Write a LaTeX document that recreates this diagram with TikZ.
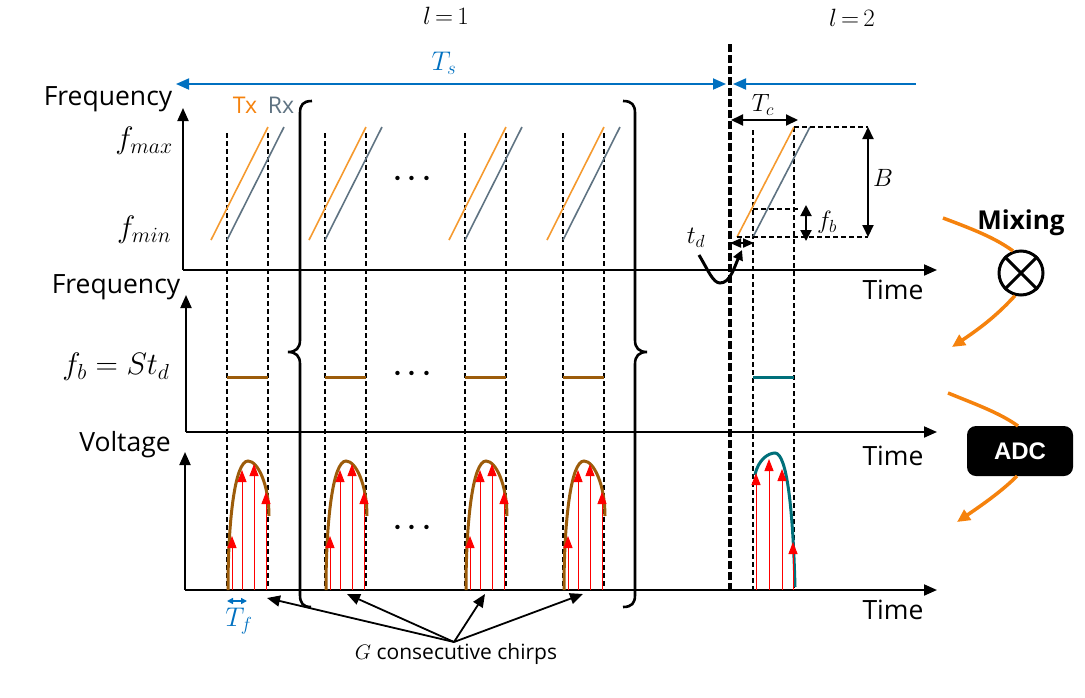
\RequirePackage{fix-cm}
\documentclass[tikz,border=0pt]{standalone}
\usepackage{amsmath}
\usepackage{fontspec}
\setmainfont{Open Sans}
\newfontfamily\adcfont{Liberation Sans}
\usetikzlibrary{arrows.meta}
\definecolor{txorange}{HTML}{F59A2F}
\definecolor{rxgray}{HTML}{5F7382}
\definecolor{mixorange}{HTML}{F5820D}
\definecolor{tsblue}{HTML}{0070C0}
\definecolor{beatbrown}{HTML}{9C5C0A}
\definecolor{beatteal}{HTML}{00707A}
\newcommand{\txt}[1]{\fontsize{#1}{#1}\selectfont}
\tikzset{
	lab/.style={inner sep=0pt,font=\txt{26.5}},
	mathlab/.style={inner sep=0pt,font=\txt{25}},
	biglab/.style={inner sep=0pt,font=\txt{31}},
	dotlab/.style={inner sep=0pt,font=\boldmath\txt{28}},
	axis/.style={line width=2pt,<-},
	guide/.style={line width=1.8pt,dash pattern=on 5pt off 3pt},
	bound/.style={line width=1.8pt,dash pattern=on 5pt off 3pt},
	measure/.style={line width=2pt,<->},
	txline/.style={line width=1.6pt,draw=txorange},
	rxline/.style={line width=1.6pt,draw=rxgray},
	sample/.style={line width=1pt,draw=red,->,>={Triangle[length=12pt,width=9pt]}},
	brownline/.style={line width=3pt,draw=beatbrown},
	tealline/.style={line width=3pt,draw=beatteal},
	bluearrow/.style={line width=1.8pt,draw=tsblue},
	mixline/.style={line width=3.5pt,draw=mixorange},
	curlybrace/.style={line width=2.6pt},
}
\begin{document}
\begin{tikzpicture}[x=1pt,y=-1pt,>={Triangle[length=13pt,width=11pt]},line cap=butt]
	\useasboundingbox (0,0) rectangle (1085,697);
	% labels
	\node (l1) [mathlab] at (446,16) {$l\,{=}\,1$};
	\node (l2) [mathlab] at (852,18) {$l\,{=}\,2$};
	\node (Ts) [mathlab,font=\txt{27},text=tsblue] at (444,63) {$T_s$};
	\node (freq1) [lab] at (108,99) {Frequency};
	\node (freq2) [lab] at (116,287) {Frequency};
	\node (volt) [lab] at (125,445) {Voltage};
	\node (tx) [lab,font=\txt{23},text=mixorange] at (245,105) {Tx};
	\node (rx) [lab,font=\txt{23},text=rxgray] at (281,105) {Rx};
	\node (fmax) [biglab] at (144,141) {$f_{max}$};
	\node (fmin) [biglab] at (144,230) {$f_{min}$};
	\node (fbeq) [biglab] at (116,367) {$f_b=St_d$};
	\node (time1) [lab] at (893,290) {Time};
	\node (time2) [lab] at (893,456) {Time};
	\node (time3) [lab] at (893,610) {Time};
	\node (dots1) [dotlab] at (415,179) {$\cdots$};
	\node (dots2) [dotlab] at (415,374) {$\cdots$};
	\node (dots3) [dotlab] at (415,528) {$\cdots$};
	\node (Tf) [mathlab,font=\txt{27},text=tsblue] at (239,621) {$T_f$};
	\node (Tc) [mathlab] at (763,105) {$T_c$};
	\node (B) [mathlab] at (883,178) {$B$};
	\node (fb) [mathlab] at (827,222) {$f_b$};
	\node (td) [mathlab] at (696,238) {$t_d$};
	\node (chirps) [lab,font=\txt{21}] at (456,654) {$G$ consecutive chirps};
	% axes
	\coordinate (o1) at (183,270);
	\coordinate (o2) at (186,432);
	\coordinate (o3) at (185,590);
	\draw [axis] (183,108) -- (o1);
	\draw [axis] (937,270) -- (o1);
	\draw [axis] (186,295) -- (o2);
	\draw [axis] (937,432) -- (o2);
	\draw [axis] (185,452) -- (o3);
	\draw [axis] (937,590) -- (o3);
	% l=1 chirps
	\foreach \x in {227,325,465,563} {
		\draw [guide] (\x,133) -- (\x,590);
		\draw [guide] (\x+41,133) -- (\x+41,590);
		\draw [txline] (\x-16,240) -- (\x+41,127);
		\draw [rxline] (\x,240) -- (\x+57,127);
		\draw [brownline] (\x,377) -- (\x+41,377);
		\draw [brownline] (\x+1,590) .. controls (\x+1,520) and (\x+8,461) .. (\x+21,461) .. controls (\x+31,461) and (\x+42,485) .. (\x+42,516);
		\draw [sample] (\x+5,590) -- (\x+5,536);
		\draw [sample] (\x+15,590) -- (\x+15,470);
		\draw [sample] (\x+27,590) -- (\x+27,464);
		\draw [sample] (\x+39,590) -- (\x+39,492);
	}
	% l=2 chirp
	\draw [guide] (753,130) -- (753,590);
	\draw [guide] (794,127) -- (794,590);
	\draw [txline] (737,237) -- (794,127);
	\draw [rxline] (753,237) -- (810,127);
	\draw [tealline] (753,377) -- (794,377);
	\draw [tealline] (755,475) .. controls (758,460) and (768,453) .. (775,453) .. controls (787,453) and (793,510) .. (795,587);
	\draw [sample] (756,590) -- (756,473);
	\draw [sample] (769,590) -- (769,459);
	\draw [sample] (782,590) -- (782,469);
	\draw [sample] (793,590) -- (793,542);
	% boundary and durations
	\coordinate (top) at (730,44);
	\coordinate (bot) at (730,590);
	\draw [line width=3.4pt,dash pattern=on 8pt off 3pt] (top) -- (bot);
	\draw [bluearrow,<->] (176,84) -- (726,84);
	\draw [bluearrow,<-] (733,84) -- (916,84);
	\draw [measure,>={Triangle[length=12pt,width=11pt]}] (731,120) -- (798,120);
	\draw [bound] (794,127) -- (868,127);
	\draw [bound] (737,237) -- (868,237);
	\draw [bound] (753,209) -- (800,209);
	\draw [measure,>={Triangle[length=12pt,width=11pt]}] (868,127) -- (868,237);
	\draw [measure,>={Triangle[length=11pt,width=11pt]}] (806,205) -- (806,241);
	\draw [measure,>={Triangle[length=11pt,width=9pt]}] (730,243) -- (754,243);
	\draw [line width=3pt,->,>={Triangle[length=10pt,width=10pt]}] (699,255) .. controls (708,270) and (713,283) .. (720,283) .. controls (730,283) and (734,268) .. (742,250);
	\draw [bluearrow,<->,>={Triangle[length=6pt,width=6pt]}] (227,601) -- (247,601);
	% braces
	\draw [curlybrace] (312,101) .. controls (303,101) and (300,105) .. (300,113) -- (300,340) .. controls (300,348) and (296,352) .. (288,352) .. controls (296,352) and (300,356) .. (300,364) -- (300,595) .. controls (300,603) and (303,607) .. (311,607);
	\draw [curlybrace] (623,101) .. controls (632,101) and (635,105) .. (635,113) -- (635,340) .. controls (635,348) and (639,352) .. (647,352) .. controls (639,352) and (635,356) .. (635,364) -- (635,595) .. controls (635,603) and (632,607) .. (623,607);
	% chirp pointers
	\coordinate (hub) at (454,642);
	\draw [line width=1.8pt,->] (hub) -- (267,598);
	\draw [line width=1.8pt,->] (hub) -- (347,594);
	\draw [line width=1.8pt,->] (hub) -- (485,594);
	\draw [line width=1.8pt,->] (hub) -- (583,594);
	% mixing and ADC
	\node (mixing) [lab,font=\bfseries\txt{26}] at (1021,223) {Mixing};
	\node (mix) [draw,circle,line width=3pt,minimum size=44pt,inner sep=0pt] at (1021,273) {};
	\draw [line width=3pt] (mix.45) -- (mix.225);
	\draw [line width=3pt] (mix.135) -- (mix.315);
	\node (adc) [fill=black,rounded corners=9pt,minimum width=106pt,minimum height=50pt,text=white,font=\adcfont\bfseries\txt{24}] at (1020,451) {ADC};
	\coordinate (mixin) at (943,218);
	\coordinate (mixout) at (952,347);
	\coordinate (adcin) at (948,393);
	\coordinate (adcout) at (957,522);
	\draw [mixline] (mixin) .. controls (975,230) and (995,238) .. (mix.110);
	\draw [mixline,->,>={Triangle[length=13pt,width=12pt]}] (mix.255) .. controls (1000,312) and (985,325) .. (mixout);
	\draw [mixline] (adcin) .. controls (975,404) and (1000,413) .. (1018,426);
	\draw [mixline,->,>={Triangle[length=13pt,width=12pt]}] (1017,476) .. controls (1003,490) and (985,503) .. (adcout);
\end{tikzpicture}
\end{document}
